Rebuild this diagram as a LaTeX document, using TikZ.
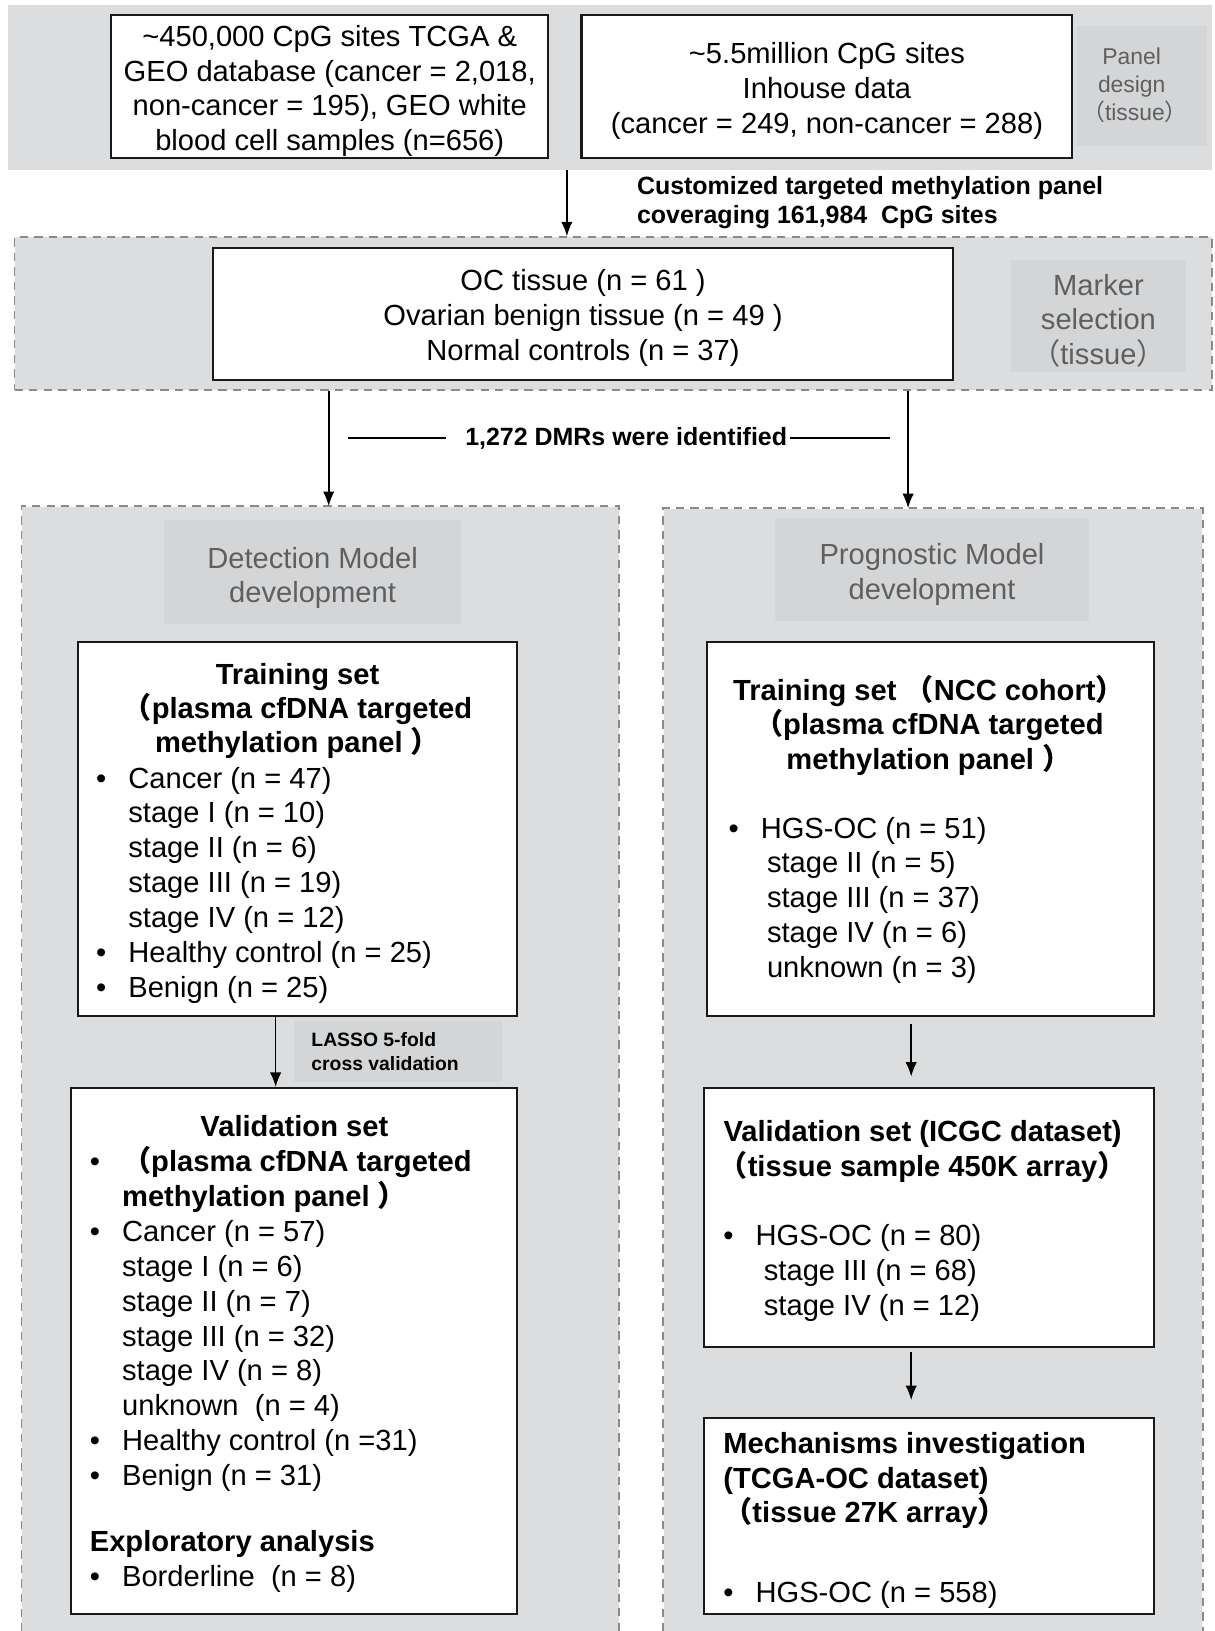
\documentclass[tikz,border=0pt]{standalone}
\usepackage{fontspec}
\setmainfont{Liberation Sans}
\newfontfamily\cjk{Noto Sans CJK SC}
\usetikzlibrary{arrows.meta,fit}
\definecolor{bandgray}{RGB}{220,221,223}
\definecolor{labelgray}{RGB}{212,213,215}
\definecolor{dashgray}{RGB}{138,138,138}
\definecolor{textgray}{RGB}{95,95,95}
% full width brackets and list lines
\newcommand{\flp}{{\cjk （}}
\newcommand{\frp}{{\cjk ）}}
\newcommand{\itembul}[1]{\makebox[15.5pt][l]{\textbullet}#1}
\newcommand{\itemind}[2][15.5pt]{\makebox[#1]{}#2}

\begin{document}
\begin{tikzpicture}[x=0.5pt, y=-0.5pt, >={Latex[length=7pt,width=5.5pt]},
    whitebox/.style={draw=black!90, line width=1pt, fill=white, inner sep=0pt},
    band/.style={fill=bandgray, inner sep=0pt},
    rim/.style={draw=dashgray, dash pattern=on 4pt off 3pt, line width=0.8pt},
    tag/.style={fill=labelgray, inner sep=0pt},
    txt/.style={font=\fontsize{14}{16.75}\selectfont, inner sep=0pt},
    boxtext/.style={txt, align=center, yshift=-2.2pt},
    taglabel/.style={boxtext, text=textgray},
    head/.style={font=\bfseries\fontsize{14}{16.5}\selectfont, inner sep=0pt},
    note/.style={font=\bfseries\fontsize{12}{14}\selectfont, inner sep=0pt},
    link/.style={->, line width=0.8pt}]
    \useasboundingbox (0,0) rectangle (1168,1568);

    % panel design
    \node[band, fit={(8,5) (1165,163)}] (panel) {};
    \node[whitebox, fit={(107,14) (527,152)}] (db) {};
    \node[boxtext] (dbtext) at (db.center) {\textasciitilde 450,000 CpG sites TCGA \&\\GEO database (cancer = 2,018,\\non-cancer = 195), GEO white\\blood cell samples (n=656)};
    \node[whitebox, fit={(559,14) (1031,152)}] (inhouse) {};
    \node[boxtext] (inhousetext) at (inhouse.center) {\textasciitilde 5.5million CpG sites\\Inhouse data\\(cancer = 249, non-cancer = 288)};
    \node[tag, fit={(1035,25) (1160,140)}] (paneltag) {};
    \node[taglabel, font=\fontsize{11}{13.5}\selectfont] (panellabel) at (1088,78) {Panel\\design\\\ \flp tissue\frp};

    \coordinate (a1) at (545,0);
    \node[note, align=left, anchor=north west] (custom) at (612,169) {Customized targeted methylation panel\\coveraging 161,984\ \ CpG sites};

    % marker selection
    \node[band, rim, fit={(14,228) (1165,375)}] (marker) {};
    \node[whitebox, fit={(205,238) (916,365)}] (oc) {};
    \node[boxtext] (octext) at (oc.center) {OC tissue (n = 61 )\\Ovarian benign tissue (n = 49 )\\Normal controls (n = 37)};
    \node[tag, fit={(972,250) (1140,358)}] (markertag) {};
    \node[taglabel] (markerlabel) at (markertag.center) {Marker\\selection\\\flp tissue\frp};
    \draw[link] (panel.south -| a1) -- (marker.north -| a1);

    \node[note] (dmr) at (602,421) {1,272 DMRs were identified};
    \coordinate (dmrL) at (335,421);
    \coordinate (dmrR) at (856,421);
    \draw[line width=0.6pt] (dmrL) -- ([xshift=-9pt]dmr.west);
    \draw[line width=0.6pt] ([xshift=1pt]dmr.east) -- (dmrR);

    % detection model
    \node[band, fit={(21,487) (595,1568)}] (detect) {};
    \draw[rim] (detect.south west) -- (detect.north west) -- (detect.north east) -- (detect.south east);
    \node[tag, fit={(158,500) (443,600)}] (detecttag) {};
    \node[taglabel, yshift=-0.6pt] (detectlabel) at (detecttag.center) {Detection Model\\development};

    \node[whitebox, fit={(75,617) (497,977)}] (trainL) {};
    \node[head, align=center, anchor=north] (trainLhead) at (286,637) {Training set\\\flp plasma cfDNA targeted\\methylation panel \frp};
    \node[txt, align=left, anchor=north west] (trainLlist) at (92,737) {%
        \itembul{Cancer (n = 47)}\\
        \itemind{stage I (n = 10)}\\
        \itemind{stage II (n = 6)}\\
        \itemind{stage III (n = 19)}\\
        \itemind{stage IV (n = 12)}\\
        \itembul{Healthy control (n = 25)}\\
        \itembul{Benign (n = 25)}};

    \node[tag, fit={(283,982) (483,1040)}] (lassotag) {};
    \node[align=left, anchor=west, inner sep=0pt, font=\bfseries\fontsize{9.3}{11.5}\selectfont] (lasso) at (299,1011) {LASSO 5-fold\\cross validation};

    \node[whitebox, fit={(68,1046) (497,1552)}] (valL) {};
    \node[head, anchor=north] (valLhead) at (283,1072) {Validation set};
    \node[txt, align=left, anchor=north west] (valLlist) at (86,1102) {%
        \itembul{\textbf{\flp plasma cfDNA targeted}}\\
        \itemind{\textbf{methylation panel \frp}}\\
        \itembul{Cancer (n = 57)}\\
        \itemind{stage I (n = 6)}\\
        \itemind{stage II (n = 7)}\\
        \itemind{stage III (n = 32)}\\
        \itemind{stage IV (n = 8)}\\
        \itemind{unknown\ \ (n = 4)}\\
        \itembul{Healthy control (n =31)}\\
        \itembul{Benign (n = 31)}};
    \node[txt, align=left, anchor=north west] (explore) at (86,1471) {%
        \textbf{Exploratory analysis}\\
        \itembul{Borderline\ \ (n = 8)}};

    \coordinate (a2) at (265,0);
    \draw[link] (trainL.south -| a2) -- (valL.north -| a2);

    % prognostic model
    \node[band, fit={(638,489) (1156,1568)}] (prog) {};
    \draw[rim] (prog.south west) -- (prog.north west) -- (prog.north east) -- (prog.south east);
    \node[tag, fit={(745,498) (1047,597)}] (progtag) {};
    \node[taglabel] (proglabel) at (progtag.center) {Prognostic Model\\development};

    \node[whitebox, fit={(680,617) (1109,977)}] (trainR) {};
    \node[head, align=center, anchor=north] (trainRhead) at (893,649) {Training set \flp NCC cohort\frp\\\flp plasma cfDNA targeted\\methylation panel \frp};
    \node[txt, align=left, anchor=north west] (trainRlist) at (700,785) {%
        \itembul{HGS-OC (n = 51)}\\
        \itemind[18.5pt]{stage II (n = 5)}\\
        \itemind[18.5pt]{stage III (n = 37)}\\
        \itemind[18.5pt]{stage IV (n = 6)}\\
        \itemind[18.5pt]{unknown (n = 3)}};

    \node[whitebox, fit={(677,1046) (1109,1295)}] (valR) {};
    \node[head, align=center, anchor=north] (valRhead) at (887,1077) {Validation set (ICGC dataset)\\\flp tissue sample 450K array\frp};
    \node[txt, align=left, anchor=north west] (valRlist) at (695,1177) {%
        \itembul{HGS-OC (n = 80)}\\
        \itemind[19.5pt]{stage III (n = 68)}\\
        \itemind[19.5pt]{stage IV (n = 12)}};

    \node[whitebox, fit={(677,1363) (1109,1552)}] (mech) {};
    \node[head, align=left, anchor=north west] (mechhead) at (695,1377) {Mechanisms investigation\\(TCGA-OC dataset)\\\flp tissue 27K array\frp};
    \node[txt, align=left, anchor=north west] (mechlist) at (695,1520) {\itembul{HGS-OC (n = 558)}};

    \coordinate (a3) at (316,0);
    \coordinate (a4) at (873,0);
    \coordinate (a5) at (876,0);
    \draw[link] (marker.south -| a3) -- (detect.north -| a3);
    \draw[link] (marker.south -| a4) -- (prog.north -| a4);
    \draw[link, shorten <=3pt, shorten >=5pt] (trainR.south -| a5) -- (valR.north -| a5);
    \draw[link, shorten <=2pt, shorten >=8pt] (valR.south -| a5) -- (mech.north -| a5);
\end{tikzpicture}
\end{document}
